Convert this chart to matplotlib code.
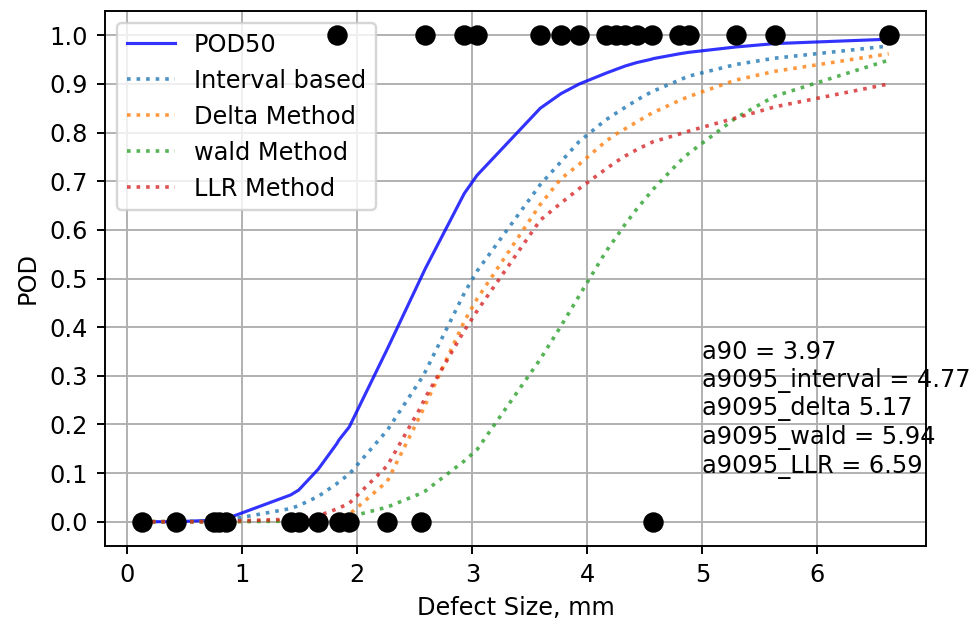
import numpy as np
import matplotlib.pyplot as plt

# crack sizes (mm), sorted, and hit/miss result of each inspection
defect_size = [0.13, 0.42, 0.75, 0.80, 0.86, 1.42, 1.49, 1.66, 1.82, 1.84,
               1.93, 2.26, 2.55, 2.59, 2.93, 3.04, 3.59, 3.77, 3.93, 4.16,
               4.25, 4.33, 4.43, 4.56, 4.57, 4.80, 4.88, 5.29, 5.63, 6.62]
hit = [0, 0, 0, 0, 0, 0, 0, 0, 1, 0,
       0, 0, 0, 1, 1, 1, 1, 1, 1, 1,
       1, 1, 1, 1, 0, 1, 1, 1, 1, 1]

# POD curves read at the same sizes
pod50 = [0.000, 0.000, 0.003, 0.004, 0.006, 0.055, 0.065, 0.108, 0.160, 0.168,
         0.195, 0.355, 0.500, 0.520, 0.675, 0.712, 0.850, 0.880, 0.900, 0.922,
         0.930, 0.937, 0.944, 0.951, 0.952, 0.962, 0.965, 0.976, 0.983, 0.992]
pod_interval = [0.000, 0.000, 0.001, 0.002, 0.003, 0.027, 0.033, 0.052, 0.078, 0.082,
                0.098, 0.188, 0.292, 0.308, 0.470, 0.515, 0.693, 0.740, 0.782, 0.826,
                0.840, 0.852, 0.867, 0.884, 0.885, 0.908, 0.916, 0.940, 0.953, 0.978]
pod_delta = [0.000, 0.000, 0.000, 0.000, 0.000, 0.002, 0.003, 0.006, 0.010, 0.011,
             0.015, 0.083, 0.220, 0.240, 0.412, 0.458, 0.652, 0.705, 0.735, 0.782,
             0.797, 0.808, 0.822, 0.840, 0.841, 0.866, 0.874, 0.908, 0.926, 0.962]
pod_wald = [0.000, 0.000, 0.000, 0.000, 0.000, 0.001, 0.002, 0.003, 0.005, 0.006,
            0.010, 0.030, 0.058, 0.063, 0.125, 0.148, 0.334, 0.402, 0.465, 0.555,
            0.585, 0.612, 0.643, 0.680, 0.683, 0.740, 0.757, 0.830, 0.875, 0.949]
pod_llr = [0.000, 0.000, 0.000, 0.000, 0.001, 0.005, 0.006, 0.012, 0.026, 0.028,
           0.038, 0.115, 0.235, 0.255, 0.393, 0.433, 0.620, 0.655, 0.685, 0.725,
           0.740, 0.752, 0.765, 0.780, 0.781, 0.797, 0.803, 0.830, 0.853, 0.900]

a90 = 3.97
a9095_interval = 4.77
a9095_delta = 5.17
a9095_wald = 5.94
a9095_llr = 6.59

dpi = 173
fig = plt.figure(figsize=(976 / dpi, 624 / dpi), dpi=dpi)
ax = fig.add_axes([105 / 976, 1 - 546 / 624, 821 / 976, 535 / 624])

ax.plot(defect_size, pod50, color='blue', alpha=0.8, lw=1.3, label='POD50')
ax.plot(defect_size, pod_interval, ':', color='tab:blue', alpha=0.8, label='Interval based')
ax.plot(defect_size, pod_delta, ':', color='tab:orange', alpha=0.8, label='Delta Method')
ax.plot(defect_size, pod_wald, ':', color='tab:green', alpha=0.8, label='wald Method')
ax.plot(defect_size, pod_llr, ':', color='tab:red', alpha=0.8, label='LLR Method')
ax.plot(defect_size, hit, 'ko', markersize=7.5, zorder=6)

ax.text(5, 0.1, f"a90 = {a90}\na9095_interval = {a9095_interval}\n"
                f"a9095_delta {a9095_delta}\na9095_wald = {a9095_wald}\n"
                f"a9095_LLR = {a9095_llr}")

ax.set_yticks(np.arange(0, 1.01, 0.1))
ax.set_xlabel('Defect Size, mm')
ax.set_ylabel('POD')
ax.grid(True)
ax.legend(loc='upper left')

fig.savefig('out.png', dpi=dpi)
